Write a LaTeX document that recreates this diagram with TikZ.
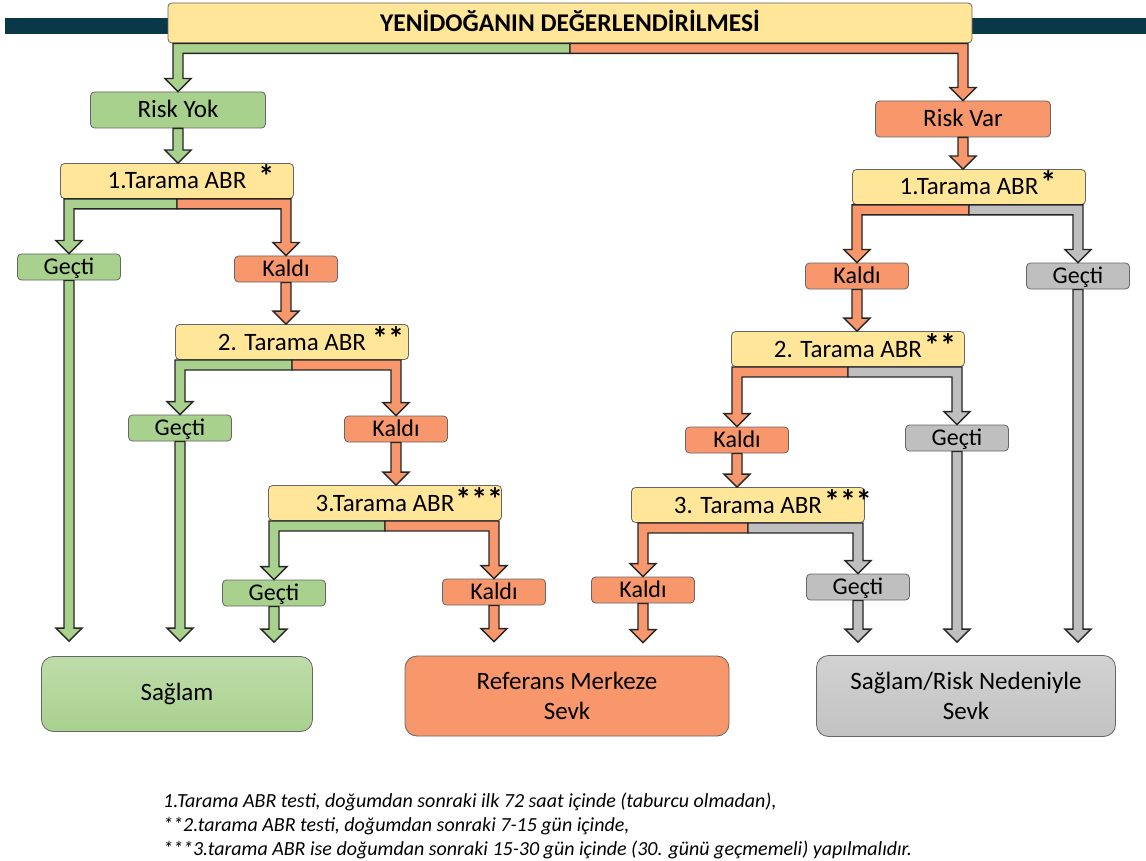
\documentclass[tikz,border=0pt]{standalone}
\usepackage{fontspec}
\setmainfont{Carlito}
\usetikzlibrary{calc}
\definecolor{grn}{HTML}{A9D18E}
\definecolor{org}{HTML}{F8976B}
\definecolor{ylw}{HTML}{FFE699}
\definecolor{gry}{HTML}{BFBFBF}
\definecolor{teal}{HTML}{093848}
\newcommand\vblock[3]{%
  \path[arrowstyle, fill=#1] let \p1=#2, \p2=#3 in
    (\x1-5pt,\y1) -- (\x1+5pt,\y1) -- (\x1+5pt,\y2+13pt) -- (\x1+13pt,\y2+13pt)
    -- (\x1,\y2) -- (\x1-13pt,\y2+13pt) -- (\x1-5pt,\y2+13pt) -- cycle;}
\newcommand\splitblock[5]{%
  \path[arrowstyle, fill=#1] let \p1=(#3.south), \p2=(#4.north) in
    (\x1,\y1) -- (\x2-5pt,\y1) -- (\x2-5pt,\y2+13pt) -- (\x2-13pt,\y2+13pt)
    -- (\x2,\y2) -- (\x2+13pt,\y2+13pt) -- (\x2+5pt,\y2+13pt) -- (\x2+5pt,\y1-10pt)
    -- (\x1,\y1-10pt) -- cycle;
  \path[arrowstyle, fill=#2] let \p1=(#3.south), \p3=(#5.north) in
    (\x1,\y1) -- (\x3+5pt,\y1) -- (\x3+5pt,\y3+13pt) -- (\x3+13pt,\y3+13pt)
    -- (\x3,\y3) -- (\x3-13pt,\y3+13pt) -- (\x3-5pt,\y3+13pt) -- (\x3-5pt,\y1-10pt)
    -- (\x1,\y1-10pt) -- cycle;}
\newcommand\stars[2]{\rlap{\hspace{#1pt}\raisebox{1pt}{\fontsize{32}{32}\selectfont\bfseries #2}}}
\begin{document}
\begin{tikzpicture}[x=1pt,y=-1pt,
  box/.style={draw=black!60, line width=0.8pt, rounded corners=4pt, inner sep=0pt,
    text height=16pt, text depth=0pt, font=\fontsize{25}{30}\selectfont},
  tbox/.style={box, fill=ylw, minimum width=233, minimum height=35},
  small/.style={box, minimum width=103, minimum height=26, text height=15.5pt,
    font=\fontsize{24}{28}\selectfont},
  big/.style={draw=black!60, line width=0.8pt, rounded corners=12pt, align=center,
    font=\fontsize{25}{30}\selectfont},
  arrowstyle/.style={draw=black!85, line width=1.3pt, line join=miter},
  note/.style={anchor=west, inner sep=0pt, font=\fontsize{20}{24}\selectfont\itshape}]
\useasboundingbox[fill=white] (0,0) rectangle (1146,861);
\fill[teal] (5,18) rectangle (1146,34);
% header
\node[box, fill=ylw, minimum width=804, minimum height=40, text height=16.5pt,
  font=\fontsize{25.5}{30}\selectfont\bfseries]
  (head) at (570,23) {YENİDOĞANIN DEĞERLENDİRİLMESİ};
\node[box, fill=grn, minimum width=175, minimum height=36] (riskyok) at (178,110) {Risk Yok};
\node[box, fill=org, minimum width=175, minimum height=36] (riskvar) at (963,119) {Risk Var};
% left branch
\node[tbox] (t1L) at (177,181) {1.Tarama ABR\stars{12}{*}};
\node[small, fill=grn] (g1L) at (69,267) {Geçti};
\node[small, fill=org] (k1L) at (286,269) {Kaldı};
\node[tbox] (t2L) at (292,342) {2. Tarama ABR\stars{6}{**}};
\node[small, fill=grn] (g2L) at (180,428) {Geçti};
\node[small, fill=org] (k2L) at (396,429) {Kaldı};
\node[tbox] (t3L) at (385,503) {3.Tarama ABR\stars{1}{***}};
\node[small, fill=grn] (g3L) at (274,593) {Geçti};
\node[small, fill=org] (k3L) at (494,592) {Kaldı};
% right branch
\node[tbox] (t1R) at (969,187) {1.Tarama ABR\stars{2}{*}};
\node[small, fill=org] (k1R) at (857,276) {Kaldı};
\node[small, fill=gry] (g1R) at (1078,276) {Geçti};
\node[tbox] (t2R) at (848,349) {2. Tarama ABR\stars{2}{**}};
\node[small, fill=org] (k2R) at (737,440) {Kaldı};
\node[small, fill=gry] (g2R) at (957,438) {Geçti};
\node[tbox] (t3R) at (748,505) {3. Tarama ABR\stars{2}{***}};
\node[small, fill=org] (k3R) at (643,590) {Kaldı};
\node[small, fill=gry] (g3R) at (858,587) {Geçti};
% outcomes
\node[big, top color=grn!75!white, bottom color=grn, minimum width=271, minimum height=75]
  (saglam) at (177,694) {Sağlam};
\node[big, fill=org, minimum width=324, minimum height=80]
  (referans) at (567,696) {Referans Merkeze\\Sevk};
\node[big, top color=gry!70!white, bottom color=gry!95!white, minimum width=299, minimum height=81]
  (sevk) at (966,696) {Sağlam/Risk Nedeniyle\\Sevk};
% arrows
\splitblock{grn}{org}{head}{riskyok}{riskvar}
\vblock{grn}{(riskyok.south)}{(t1L.north)}
\vblock{org}{(riskvar.south)}{(t1R.north)}
\splitblock{grn}{org}{t1L}{g1L}{k1L}
\vblock{org}{(k1L.south)}{(t2L.north)}
\splitblock{grn}{org}{t2L}{g2L}{k2L}
\vblock{org}{(k2L.south)}{(t3L.north)}
\splitblock{grn}{org}{t3L}{g3L}{k3L}
\vblock{grn}{(g1L.south)}{([yshift=15pt]saglam.north)}
\vblock{grn}{(g2L.south)}{([yshift=15pt]saglam.north)}
\vblock{grn}{(g3L.south)}{([yshift=14pt]saglam.north)}
\vblock{org}{(k3L.south)}{([yshift=14pt]referans.north)}
\splitblock{org}{gry}{t1R}{k1R}{g1R}
\vblock{org}{(k1R.south)}{(t2R.north)}
\splitblock{org}{gry}{t2R}{k2R}{g2R}
\vblock{org}{(k2R.south)}{(t3R.north)}
\splitblock{org}{gry}{t3R}{k3R}{g3R}
\vblock{org}{(k3R.south)}{([yshift=13pt]referans.north)}
\vblock{gry}{(g3R.south)}{([yshift=13pt]sevk.north)}
\vblock{gry}{(g2R.south)}{([yshift=13pt]sevk.north)}
\vblock{gry}{(g1R.south)}{([yshift=13pt]sevk.north)}
% notes
\node[note] (n1) at (163,802) {1.Tarama ABR testi, doğumdan sonraki ilk 72 saat içinde (taburcu olmadan),};
\node[note] (n2) at (163,826) {**2.tarama ABR testi, doğumdan sonraki 7-15 gün içinde,};
\node[note] (n3) at (163,850) {***3.tarama ABR ise doğumdan sonraki 15-30 gün içinde (30. günü geçmemeli) yapılmalıdır.};
\end{tikzpicture}
\end{document}
